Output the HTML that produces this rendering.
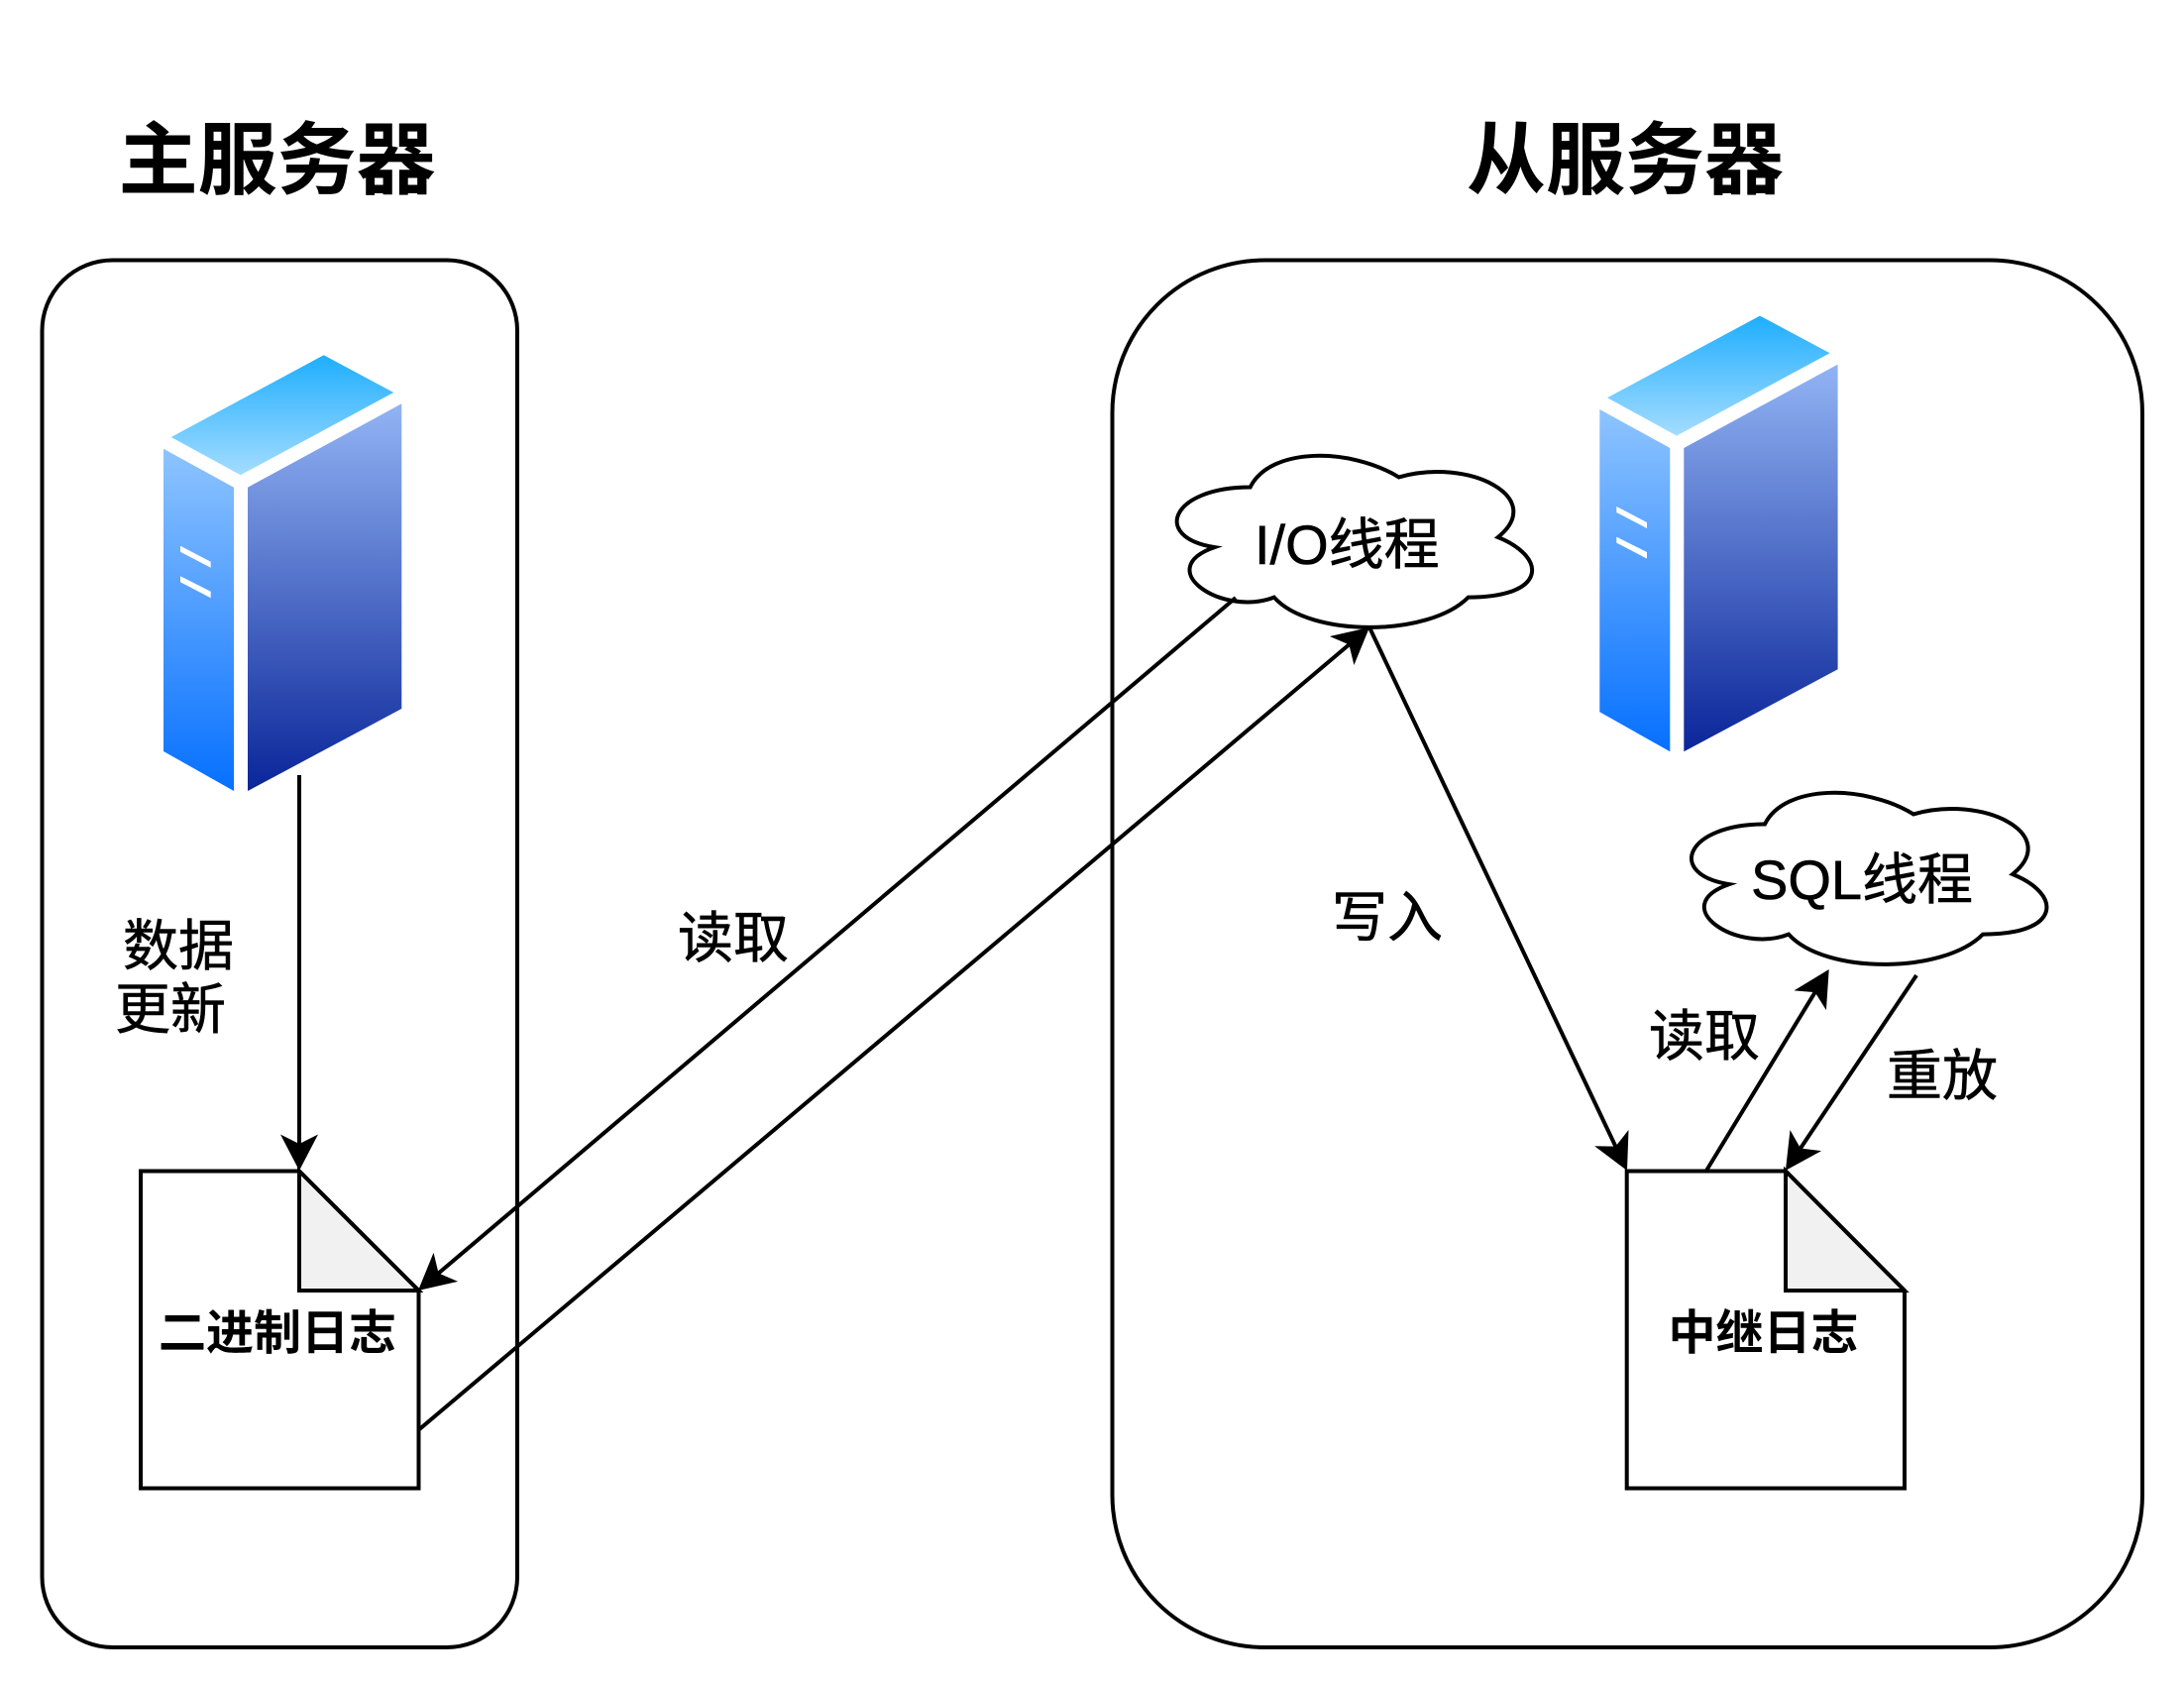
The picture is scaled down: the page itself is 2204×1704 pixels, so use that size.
<!DOCTYPE html>
<html lang="zh">
<head>
<meta charset="utf-8">
<title>主从复制</title>
<style>
html,body{margin:0;padding:0;background:#fff}
svg{display:block}
text{font-family:"Liberation Sans","Noto Sans CJK SC",sans-serif;fill:#000}
.t{font-size:80px;font-weight:700}
.l{font-size:56px;stroke:#000;stroke-width:.6px}
.d{font-size:48px;font-weight:700}
</style>
</head>
<body>
<svg xmlns="http://www.w3.org/2000/svg" width="2204" height="1704" viewBox="0 0 2204 1704">
<defs>
<linearGradient id="top" x1="0" y1="0" x2="0" y2="1"><stop offset="0" stop-color="#1eaefe"/><stop offset="1" stop-color="#a4dcff"/></linearGradient>
<linearGradient id="left" x1="0" y1="0" x2="0" y2="1"><stop offset="0" stop-color="#8ec4ff"/><stop offset="1" stop-color="#0670ff"/></linearGradient>
<linearGradient id="right" x1="0" y1="0" x2="0" y2="1"><stop offset="0" stop-color="#92b4f4"/><stop offset="1" stop-color="#0a2599"/></linearGradient>
<marker id="a" markerUnits="userSpaceOnUse" markerWidth="40" markerHeight="40" viewBox="0 0 40 40" refX="27" refY="19" orient="auto" overflow="visible">
<path d="M0.5 0L37 19L0.5 38L10 19Z" fill="#000"/>
</marker>
<g id="srv">
<polygon points="326.7,358.3 397.3,396 242.7,479.3 172.7,441" fill="url(#top)"/>
<polygon points="165,452.7 236,491.7 236,798 165,758" fill="url(#left)"/>
<polygon points="250,491.7 405.3,407.3 405.3,715 250,798" fill="url(#right)"/>
<polygon points="182,550.7 212.7,566.7 212.7,572.7 182,556.7" fill="#fff"/>
<polygon points="182,581.3 212.7,596.7 212.7,603.3 182,587.3" fill="#fff"/>
</g>
<path id="cloud" d="M100 50.5C20 50.5 0 101 64 111.1C0 133.3 72 181.8 124 161.6C160 202 280 202 320 161.6C400 161.6 400 121.2 350 101C400 60.6 320 20.2 250 40.4C200 10.1 120 10.1 100 50.5Z" fill="#fff" stroke="#000" stroke-width="4" stroke-miterlimit="10"/>
</defs>

<rect width="2204" height="1704" fill="#fff"/>

<rect x="42.5" y="262.5" width="479.5" height="1399.5" rx="71" ry="71" fill="#fff" stroke="#000" stroke-width="4"/>
<rect x="1122.5" y="262.5" width="1039.5" height="1399.5" rx="154" ry="154" fill="#fff" stroke="#000" stroke-width="4"/>

<use href="#srv"/>
<use href="#srv" x="1449.3" y="-39.7"/>

<use href="#cloud" x="1161.7" y="441"/>
<use href="#cloud" x="1681" y="781"/>

<path d="M142 1181.5H302L422.5 1302V1501.5H142Z" fill="#fff" stroke="#000" stroke-width="4" stroke-linejoin="miter"/>
<path d="M302 1181.5V1302H422.5Z" fill="#f1f1f1" stroke="#000" stroke-width="4"/>
<path d="M1641.7 1181.5H1802L1922 1302V1501.5H1641.7Z" fill="#fff" stroke="#000" stroke-width="4"/>
<path d="M1802 1181.5V1302H1922Z" fill="#f1f1f1" stroke="#000" stroke-width="4"/>

<g stroke="#000" stroke-width="4" fill="none">
<line x1="302" y1="782" x2="302" y2="1171" marker-end="url(#a)"/>
<line x1="1247" y1="603" x2="429.6" y2="1295.5" marker-end="url(#a)"/>
<line x1="422" y1="1443" x2="1374.4" y2="639.4" marker-end="url(#a)"/>
<line x1="1382" y1="633" x2="1637.7" y2="1172" marker-end="url(#a)"/>
<line x1="1722" y1="1181" x2="1840.5" y2="986.6" marker-end="url(#a)"/>
<line x1="1934" y1="984" x2="1807.5" y2="1172.6" marker-end="url(#a)"/>
</g>

<text class="t" x="119.6" y="189.5">主服务器</text>
<text class="t" x="1480" y="189.5">从服务器</text>

<text class="l" x="1266" y="569">I/O线程</text>
<text class="l" x="1767" y="907">SQL线程</text>

<text class="l" x="124" y="974">数据</text>
<text class="l" x="116" y="1038">更新</text>
<text class="l" x="684" y="966">读取</text>
<text class="l" x="1344" y="945">写入</text>
<text class="l" x="1664" y="1065">读取</text>
<text class="l" x="1904" y="1105">重放</text>
<text class="d" x="160" y="1361">二进制日志</text>
<text class="d" x="1683.5" y="1361">中继日志</text>
</svg>
</body>
</html>
